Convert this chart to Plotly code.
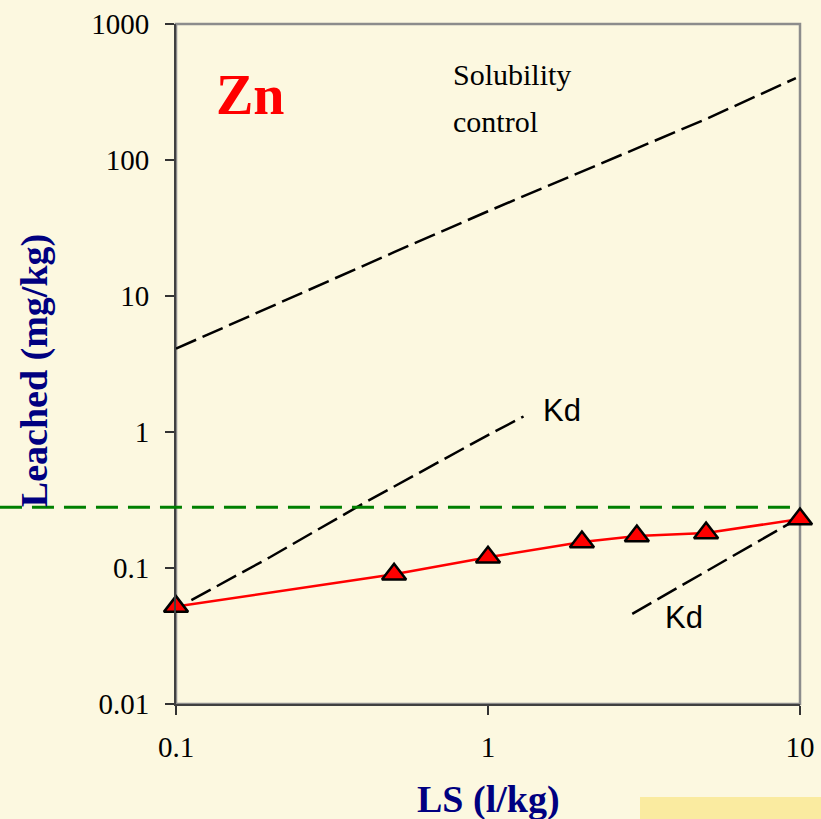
import plotly.graph_objects as go

# ---- data ----
ls_measured = [0.1, 0.5, 1, 2, 3, 5, 10]
zn_leached = [0.052, 0.09, 0.12, 0.155, 0.172, 0.181, 0.229]

sol_x = [0.1, 0.2, 0.5, 1, 2, 5, 9.7]
sol_y = [4.1, 8.3, 21, 42, 82, 200, 400]

kd1_x = [0.112, 0.2, 0.4, 1, 1.3]
kd1_y = [0.058, 0.12, 0.3, 0.95, 1.3]

kd2_x = [2.9, 5, 9.3]
kd2_y = [0.046, 0.094, 0.214]

limit_value = 0.28

x_ticks = [0.1, 1, 10]
x_ticktext = ["0.1", "1", "10"]
y_ticks = [0.01, 0.1, 1, 10, 100, 1000]
y_ticktext = ["0.01", "0.1", "1", "10", "100", "1000"]

BG = "#FCF8E0"
SERIF = "Liberation Serif"
SANS = "Liberation Sans"

fig = go.Figure()

dash_black = dict(color="black", width=2.5, dash="22px,7px")
fig.add_trace(go.Scatter(x=sol_x, y=sol_y, mode="lines", line=dash_black, showlegend=False))
fig.add_trace(go.Scatter(x=kd1_x, y=kd1_y, mode="lines", line=dash_black, showlegend=False))
fig.add_trace(go.Scatter(x=kd2_x, y=kd2_y, mode="lines", line=dash_black, showlegend=False))

fig.add_trace(go.Scatter(
    x=ls_measured, y=zn_leached, mode="lines+markers",
    line=dict(color="#FF0000", width=2.5),
    marker=dict(symbol="triangle-up", size=21, color="#FF0000",
                line=dict(color="black", width=2.5)),
    cliponaxis=False, showlegend=False))

# frame top/right (gray)
fig.add_shape(type="rect", xref="paper", yref="paper", x0=0, x1=1, y0=0, y1=1,
              line=dict(color="#8C8C8C", width=2.5), layer="below")

# green limit line extending to left edge
fig.add_shape(type="line", xref="paper", yref="y", x0=-0.2821, x1=1,
              y0=limit_value, y1=limit_value,
              line=dict(color="#008000", width=3, dash="22px,10px"))

# yellow box lower right
fig.add_shape(type="rect", xref="paper", yref="paper", x0=0.7436, x1=1.04,
              y0=-0.175, y1=-0.1368, line=dict(width=0), fillcolor="#FAEBA0")

ann = []
ann.append(dict(text="<b>Zn</b>", x=0.1186, y=0.895, xref="paper", yref="paper",
                showarrow=False, font=dict(family=SERIF, size=56, color="#FF0000"),
                xanchor="center", yanchor="middle"))
ann.append(dict(text="Solubility", x=0.44, y=0.925, xref="paper", yref="paper",
                showarrow=False, font=dict(family=SERIF, size=30, color="black"),
                xanchor="left", yanchor="middle"))
ann.append(dict(text="control", x=0.44, y=0.856, xref="paper", yref="paper",
                showarrow=False, font=dict(family=SERIF, size=30, color="black"),
                xanchor="left", yanchor="middle"))
ann.append(dict(text="Kd", x=0.585, y=0.431, xref="paper", yref="paper",
                showarrow=False, font=dict(family=SANS, size=31, color="black"),
                xanchor="left", yanchor="middle"))
ann.append(dict(text="Kd", x=0.78, y=0.127, xref="paper", yref="paper",
                showarrow=False, font=dict(family=SANS, size=31, color="black"),
                xanchor="left", yanchor="middle"))
ann.append(dict(text="<b>Leached (mg/kg)</b>", x=-0.227, y=0.49, xref="paper", yref="paper",
                showarrow=False, textangle=-90,
                font=dict(family=SERIF, size=38, color="#000080"),
                xanchor="center", yanchor="middle"))
ann.append(dict(text="<b>LS (l/kg)</b>", x=0.5, y=-0.141, xref="paper", yref="paper",
                showarrow=False, font=dict(family=SERIF, size=38, color="#000080"),
                xanchor="center", yanchor="middle"))

fig.update_layout(
    width=821, height=819,
    margin=dict(l=176, r=21, t=24, b=115, pad=0, autoexpand=False),
    paper_bgcolor=BG, plot_bgcolor=BG,
    font=dict(family=SERIF, size=28, color="black"),
    annotations=ann,
    showlegend=False,
)
fig.update_xaxes(type="log", range=[-1, 1], tickvals=x_ticks, ticktext=x_ticktext,
                 automargin=False,
                 showgrid=False, zeroline=False, showline=True, linecolor="#404040",
                 linewidth=2, ticks="outside", ticklen=9, tickwidth=1.5, tickcolor="#333333",
                 ticklabelstandoff=7, tickfont=dict(family=SERIF, size=29, color="black"))
fig.update_yaxes(type="log", range=[-2, 3], tickvals=y_ticks, ticktext=y_ticktext,
                 automargin=False,
                 showgrid=False, zeroline=False, showline=True, linecolor="#404040",
                 linewidth=2, ticks="outside", ticklen=9, tickwidth=1.5, tickcolor="#333333",
                 ticklabelstandoff=10, tickfont=dict(family=SERIF, size=29, color="black"))

fig.write_html(
    "out.html",
    config={"displayModeBar": False},
    post_script="document.body.style.margin='0';document.body.style.padding='0';"
                "document.body.style.overflow='hidden';"
                "document.body.style.background='" + BG + "';",
)
